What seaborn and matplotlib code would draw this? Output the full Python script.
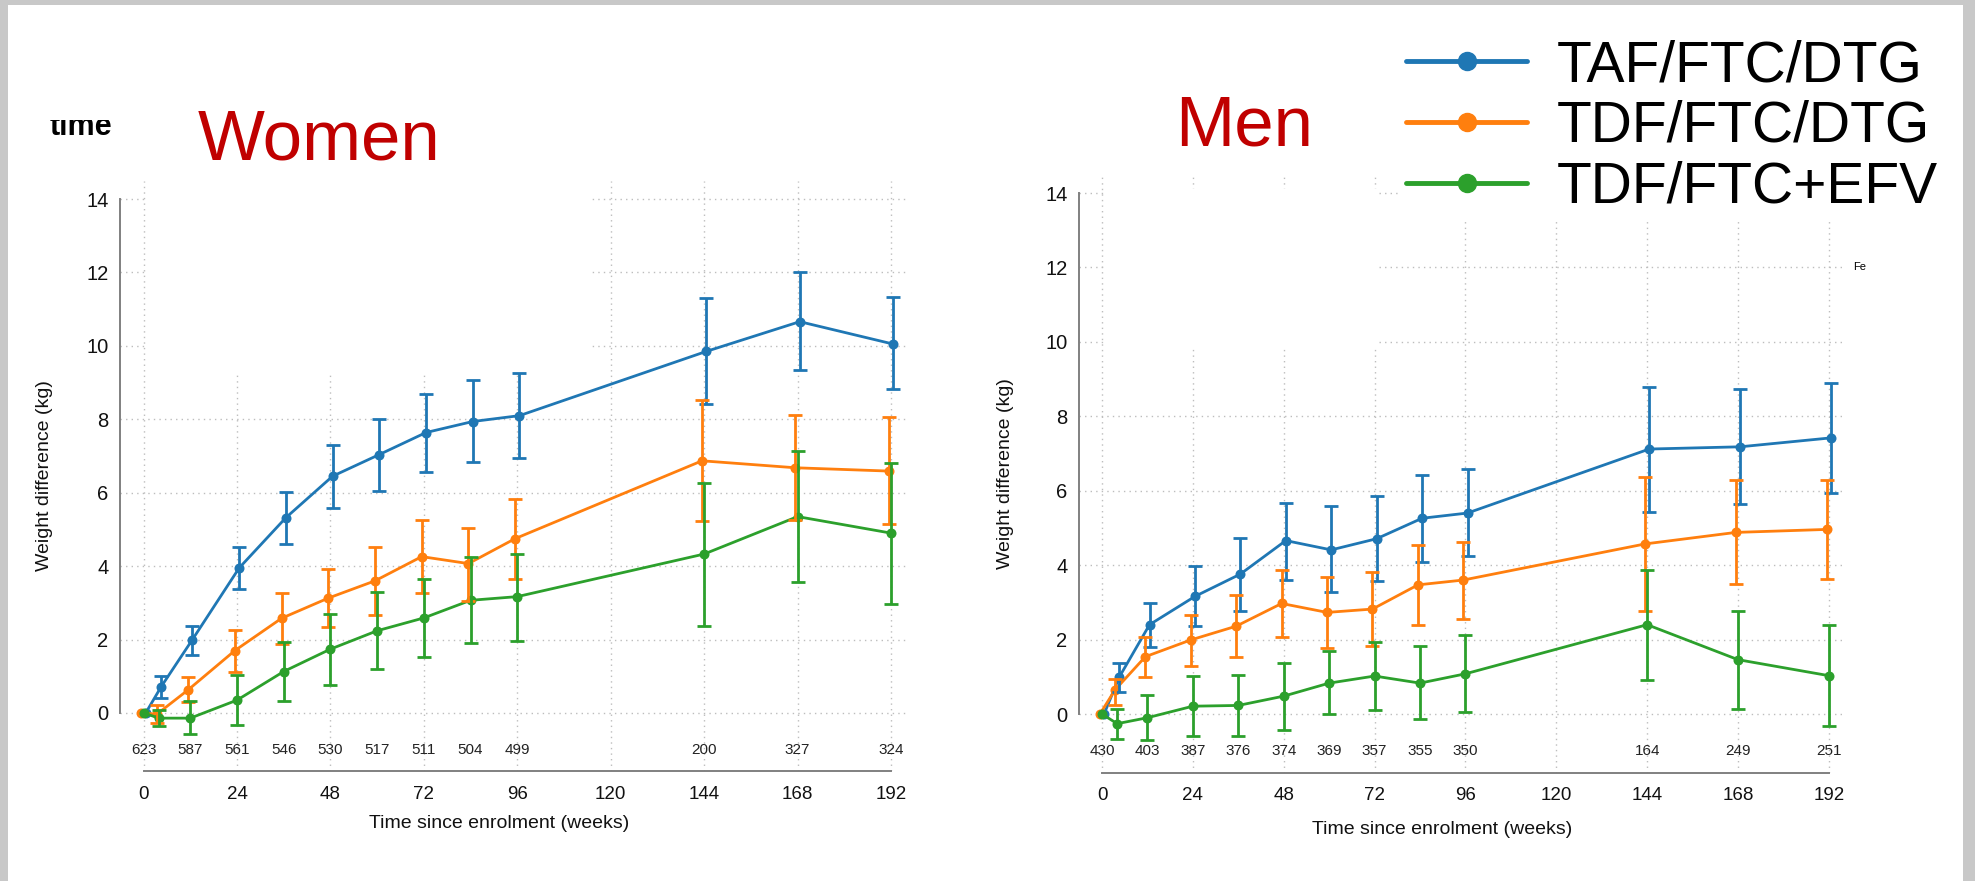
import numpy as np
import pandas as pd
import matplotlib
matplotlib.use("Agg")
import matplotlib.pyplot as plt
import seaborn as sns
from matplotlib.patches import Rectangle
from matplotlib.lines import Line2D

# ---------------- data ----------------
weeks = [0, 4, 12, 24, 36, 48, 60, 72, 84, 96, 144, 168, 192]
regimens = ["TAF/FTC/DTG", "TDF/FTC/DTG", "TDF/FTC+EFV"]

# Women
women_taf    = [0, 0.72, 2.00, 3.95, 5.32, 6.45, 7.04, 7.64, 7.94, 8.10, 9.85, 10.66, 10.05]
women_taf_lo = [0, 0.42, 1.58, 3.37, 4.60, 5.59, 6.06, 6.57, 6.84, 6.95, 8.42, 9.33, 8.82]
women_taf_hi = [0, 1.00, 2.36, 4.52, 6.03, 7.31, 8.02, 8.70, 9.06, 9.26, 11.30, 12.02, 11.32]

women_tdf    = [0, -0.03, 0.63, 1.70, 2.58, 3.13, 3.60, 4.26, 4.07, 4.75, 6.87, 6.68, 6.59]
women_tdf_lo = [0, -0.28, 0.31, 1.11, 1.89, 2.33, 2.68, 3.26, 3.04, 3.65, 5.23, 5.26, 5.14]
women_tdf_hi = [0, 0.21, 0.98, 2.26, 3.26, 3.91, 4.51, 5.27, 5.05, 5.84, 8.52, 8.12, 8.05]

women_efv    = [0, -0.14, -0.14, 0.35, 1.13, 1.74, 2.24, 2.59, 3.07, 3.17, 4.33, 5.35, 4.90]
women_efv_lo = [0, -0.36, -0.58, -0.32, 0.33, 0.75, 1.20, 1.52, 1.90, 1.97, 2.37, 3.56, 2.98]
women_efv_hi = [0, 0.07, 0.33, 1.03, 1.93, 2.70, 3.29, 3.66, 4.24, 4.34, 6.27, 7.13, 6.80]

# Men
men_taf    = [0, 0.99, 2.40, 3.16, 3.76, 4.66, 4.41, 4.71, 5.26, 5.40, 7.12, 7.18, 7.42]
men_taf_lo = [0, 0.58, 1.80, 2.36, 2.78, 3.60, 3.27, 3.57, 4.09, 4.24, 5.43, 5.63, 5.93]
men_taf_hi = [0, 1.38, 2.97, 3.97, 4.72, 5.68, 5.59, 5.86, 6.42, 6.58, 8.80, 8.72, 8.89]

men_tdf    = [0, 0.65, 1.54, 1.99, 2.36, 2.97, 2.73, 2.82, 3.47, 3.60, 4.57, 4.88, 4.96]
men_tdf_lo = [0, 0.25, 0.99, 1.28, 1.52, 2.06, 1.77, 1.83, 2.39, 2.56, 2.76, 3.48, 3.64]
men_tdf_hi = [0, 0.95, 2.08, 2.67, 3.19, 3.86, 3.69, 3.82, 4.54, 4.63, 6.37, 6.30, 6.28]

men_efv    = [0, -0.26, -0.10, 0.21, 0.23, 0.48, 0.83, 1.02, 0.83, 1.08, 2.40, 1.46, 1.03]
men_efv_lo = [0, -0.66, -0.70, -0.59, -0.60, -0.43, 0.00, 0.10, -0.14, 0.06, 0.91, 0.14, -0.33]
men_efv_hi = [0, 0.13, 0.50, 1.02, 1.06, 1.38, 1.68, 1.94, 1.83, 2.11, 3.87, 2.76, 2.38]

# numbers at risk
risk_weeks = [0, 12, 24, 36, 48, 60, 72, 84, 96, 144, 168, 192]
women_risk = [623, 587, 561, 546, 530, 517, 511, 504, 499, 200, 327, 324]
men_risk = [430, 403, 387, 376, 374, 369, 357, 355, 350, 164, 249, 251]

x_ticks = [0, 24, 48, 72, 96, 120, 144, 168, 192]
y_ticks = [0, 2, 4, 6, 8, 10, 12, 14]

panel_titles = ["Women", "Men"]
x_label = "Time since enrolment (weeks)"
y_label = "Weight difference (kg)"

# ---------------- styling ----------------
colors = {"TAF/FTC/DTG": "#1f77b4", "TDF/FTC/DTG": "#ff7f0e", "TDF/FTC+EFV": "#2ca02c"}
dodge = {"TAF/FTC/DTG": 0.55, "TDF/FTC/DTG": -0.55, "TDF/FTC+EFV": 0.0}

sns.set_theme(style="white")
plt.rcParams["font.family"] = ["Liberation Sans", "DejaVu Sans"]


def build_frame(series):
    rows = []
    for reg, (vals, lo, hi) in zip(regimens, series):
        for w, v, l, h in zip(weeks, vals, lo, hi):
            rows.append({"week": w, "x": w + dodge[reg], "value": v, "lo": l, "hi": h, "regimen": reg})
    return pd.DataFrame(rows)


df_w = build_frame([(women_taf, women_taf_lo, women_taf_hi),
                    (women_tdf, women_tdf_lo, women_tdf_hi),
                    (women_efv, women_efv_lo, women_efv_hi)])
df_m = build_frame([(men_taf, men_taf_lo, men_taf_hi),
                    (men_tdf, men_tdf_lo, men_tdf_hi),
                    (men_efv, men_efv_lo, men_efv_hi)])

W, H = 1975, 881
fig = plt.figure(figsize=(W / 100, H / 100), dpi=100)
fig.patch.set_facecolor("#c8c8c8")
fig.patches.append(Rectangle((8 / W, 0), (1963 - 8) / W, (H - 5) / H, transform=fig.transFigure,
                             facecolor="white", edgecolor="none", zorder=-10))

YMIN, YMAX = -1.58, 14.5
XMIN, XMAX = -6, 196
ax_w = fig.add_axes([120.2 / W, (H - 771) / H, (906.6 - 120.2) / W, 590.3 / H])
ax_m = fig.add_axes([1079.3 / W, (H - 772.8) / H, (1844 - 1079.3) / W, 598.4 / H])

covers = {0: (0.6, 9.3, 115, YMAX + 1), 1: (0.6, 9.8, 72.7, 14.1)}

for i, (ax, df, risk) in enumerate([(ax_w, df_w, women_risk), (ax_m, df_m, men_risk)]):
    ax.set_facecolor("none")
    sns.lineplot(data=df, x="x", y="value", hue="regimen", palette=colors, hue_order=regimens,
                 marker="o", markersize=7.2, markeredgewidth=0, linewidth=2.0,
                 errorbar=None, legend=False, ax=ax, zorder=3)
    for reg in regimens:
        d = df[df["regimen"] == reg]
        d = d[d["week"] > 0]
        ax.errorbar(d["x"], d["value"], yerr=[d["value"] - d["lo"], d["hi"] - d["value"]],
                    fmt="none", ecolor=colors[reg], elinewidth=2.0, capsize=5, capthick=2.0, zorder=3)
    for w, n in zip(risk_weeks, risk):
        ax.text(w, -1.0, str(n), ha="center", va="center", fontsize=11, color="#222222", zorder=4)

    ax.set_xlim(XMIN, XMAX)
    ax.set_ylim(YMIN, YMAX)
    ax.set_xticks(x_ticks)
    ax.set_yticks(y_ticks)
    ax.set_axisbelow(True)
    ax.grid(True, color="#bdbdbd", linestyle=(0, (1, 3)), linewidth=1.0)
    x0, y0, x1, y1 = covers[i]
    ax.add_patch(Rectangle((x0, y0), x1 - x0, y1 - y0, facecolor="white", edgecolor="none", zorder=1))

    for s in ["top", "right"]:
        ax.spines[s].set_visible(False)
    for s in ["left", "bottom"]:
        ax.spines[s].set_color("#808080")
        ax.spines[s].set_linewidth(1.4)
    ax.spines["left"].set_bounds(0, 14)
    ax.spines["bottom"].set_bounds(0, 192)
    ax.tick_params(axis="both", direction="out", length=7, width=1.4, color="#808080",
                   labelsize=13.5, labelcolor="#111111")
    ax.tick_params(axis="y", pad=1.5, labelsize=14.5)
    ax.tick_params(axis="x", pad=3.5)
    ax.set_xlabel(x_label, fontsize=14, color="#111111")
    ax.set_ylabel(y_label, fontsize=14, color="#111111")

ax_w.yaxis.set_label_coords(-0.0855, 0.5)
ax_m.yaxis.set_label_coords(-0.0854, 0.5)
ax_w.xaxis.set_label_coords(0.482, -0.0745)
ax_m.xaxis.set_label_coords(0.474, -0.0805)

# titles
fig.text(198 / W, 1 - 159 / H, panel_titles[0], fontsize=51, color="#c00000", va="baseline", ha="left")
fig.text(1175 / W, 1 - 146 / H, panel_titles[1], fontsize=51, color="#c00000", va="baseline", ha="left")

# slide remnants
fig.text(50 / W, 1 - 135 / H, "time", fontsize=22, fontweight="bold", color="black", va="baseline")
fig.patches.append(Rectangle((8 / W, 1 - 120 / H), 130 / W, (120 - 5) / H, transform=fig.transFigure,
                             facecolor="white", edgecolor="none", zorder=5))
fig.text(1853 / W, 1 - 267 / H, "Fe", fontsize=8, color="black", va="center")

# legend
handles = [Line2D([0], [0], color=colors[r], lw=3.5, marker="o", markersize=13) for r in regimens]
leg = fig.legend(handles, regimens, loc="upper left", bbox_to_anchor=(1372 / W, 1 - 5 / H),
                 fontsize=41, handlelength=2.12, handletextpad=0.53, labelspacing=0.12,
                 frameon=True, facecolor="white", edgecolor="none", framealpha=1, borderpad=0.1)
for t in leg.get_texts():
    t.set_color("black")

fig.savefig("out.png", dpi=100, facecolor=fig.get_facecolor())
